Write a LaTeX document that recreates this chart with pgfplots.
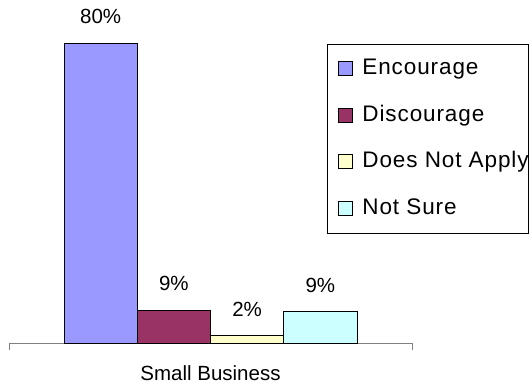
\documentclass[border=0pt]{standalone}
\usepackage{pgfplots}
\pgfplotsset{compat=1.18}
\usepackage{fontspec}
\setmainfont{Liberation Sans}
\newfontfamily\legfont[LetterSpace=4]{Liberation Sans}
\definecolor{enc}{HTML}{9999FF}
\definecolor{dis}{HTML}{993366}
\definecolor{dna}{HTML}{FFFFCC}
\definecolor{nsr}{HTML}{CCFFFF}
\definecolor{axgray}{HTML}{808080}
\pgfplotsset{sqleg/.style={legend image code/.code={\draw[##1,line width=1pt] (0pt,-1pt) rectangle (14pt,13pt);}}}
\begin{document}
\begin{tikzpicture}
\useasboundingbox (0,0) rectangle (532pt,387pt);
\begin{axis}[
  at={(9pt,43.5pt)}, anchor=south west,
  scale only axis, width=403pt, height=300pt,
  xmin=0, xmax=1, ymin=0, ymax=80,
  hide y axis, axis x line*=bottom,
  x axis line style={draw=axgray, line width=0.9pt},
  xtick={0,1}, xticklabels={}, tick align=outside, major tick length=7pt,
  x tick style={draw=axgray, line width=0.9pt},
  extra x ticks={0.5}, extra x tick labels={Small Business},
  extra x tick style={major tick length=0pt, tick label style={inner sep=0pt, yshift=-22pt, font=\fontsize{20.5}{24}\selectfont}},
  ybar=0pt, bar width=73.25pt,
  clip=false,
  point meta=explicit symbolic,
  nodes near coords,
  every node near coord/.append style={inner sep=0pt, yshift=19pt, text=black, font=\fontsize{20.5}{24}\selectfont},
  legend style={at={(rel axis cs:0.7891,0.9983)}, anchor=north west, draw=black, line width=0.8pt,
    inner xsep=11pt, inner ysep=14pt, row sep=25.7pt, column sep=9pt,
    font=\legfont\fontsize{22.5}{26}\selectfont,
    cells={anchor=base west},
    nodes={inner sep=0pt, text height=16pt, text depth=5pt}},
]
\addplot[fill=enc, draw=black, line width=1pt, sqleg] coordinates {(0.5,80) [80\%]};
\addlegendentry{Encourage}
\addplot[fill=dis, draw=black, line width=1pt, sqleg] coordinates {(0.5,8.9) [9\%]};
\addlegendentry{Discourage}
\addplot[fill=dna, draw=black, line width=1pt, sqleg] coordinates {(0.5,2) [2\%]};
\addlegendentry{\makebox[155pt][l]{Does Not Apply}}
\addplot[fill=nsr, draw=black, line width=1pt, sqleg] coordinates {(0.5,8.4) [9\%]};
\addlegendentry{Not Sure}
\end{axis}
\end{tikzpicture}
\end{document}
